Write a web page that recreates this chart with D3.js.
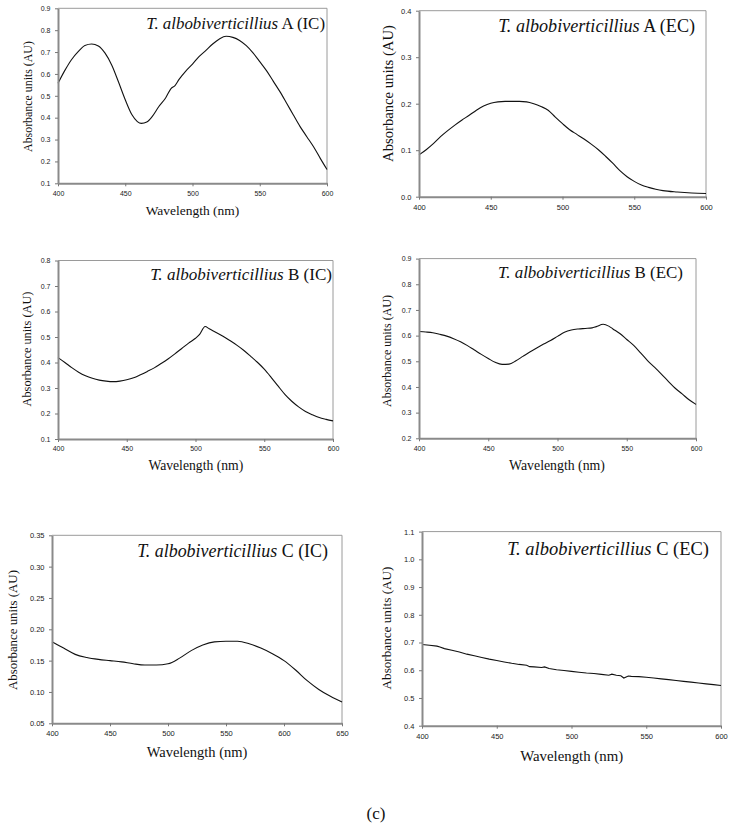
<!DOCTYPE html>
<html><head><meta charset="utf-8">
<script src="https://cdn.jsdelivr.net/npm/d3@7"></script>
<style>body{margin:0;background:#fff} svg{display:block}</style>
</head><body>
<svg id="c" width="735" height="830"></svg>
<script>
// ---------------- data ----------------
const xTicks600 = [400, 450, 500, 550, 600];
const xTicks650 = [400, 450, 500, 550, 600, 650];

const wlA_IC = [400,405,410,415,420,425,430,435,440,445,450,455,459,462,466,470,475,480,484,487,490,495,500,505,510,515,520,525,530,535,540,545,550,555,560,565,570,575,580,585,590,595,600];
const absA_IC = [0.557,0.615,0.665,0.702,0.730,0.737,0.728,0.695,0.640,0.563,0.482,0.413,0.382,0.374,0.380,0.405,0.451,0.490,0.533,0.547,0.575,0.613,0.645,0.680,0.708,0.737,0.760,0.772,0.767,0.753,0.729,0.696,0.656,0.615,0.567,0.519,0.466,0.412,0.359,0.313,0.267,0.214,0.163];
const yTicksA_IC = [0.1,0.2,0.3,0.4,0.5,0.6,0.7,0.8,0.9];

const wlA_EC = [400,405,410,415,420,425,430,435,440,445,450,455,460,465,470,475,480,485,490,495,500,505,510,515,520,525,530,535,540,545,550,555,560,565,570,580,590,600];
const absA_EC = [0.090,0.101,0.114,0.129,0.142,0.154,0.165,0.175,0.186,0.195,0.201,0.204,0.205,0.205,0.205,0.204,0.200,0.194,0.186,0.171,0.157,0.144,0.134,0.124,0.113,0.101,0.087,0.072,0.056,0.043,0.033,0.025,0.020,0.016,0.013,0.010,0.008,0.007];
const yTicksA_EC = [0.0,0.1,0.2,0.3,0.4];

const wlB_IC = [400,405,410,415,420,425,430,435,440,445,450,455,460,465,470,475,480,485,490,495,500,503,507,510,515,520,525,530,535,540,545,550,555,560,565,570,575,580,585,590,595,600];
const absB_IC = [0.419,0.400,0.380,0.362,0.348,0.338,0.331,0.327,0.325,0.327,0.332,0.340,0.352,0.365,0.379,0.396,0.414,0.434,0.455,0.476,0.495,0.510,0.541,0.532,0.518,0.503,0.486,0.468,0.448,0.425,0.401,0.374,0.342,0.308,0.275,0.248,0.226,0.208,0.195,0.184,0.177,0.171];
const yTicksB_IC = [0.1,0.2,0.3,0.4,0.5,0.6,0.7,0.8];

const wlB_EC = [400,405,410,415,420,425,430,435,440,445,450,455,460,465,470,475,480,485,490,495,500,505,510,515,520,525,528,533,537,540,545,550,555,560,565,570,575,580,585,590,595,600];
const absB_EC = [0.616,0.614,0.611,0.605,0.598,0.588,0.576,0.561,0.544,0.527,0.511,0.496,0.488,0.489,0.502,0.519,0.536,0.552,0.567,0.581,0.597,0.613,0.622,0.626,0.628,0.630,0.635,0.644,0.637,0.626,0.608,0.585,0.562,0.533,0.503,0.477,0.450,0.422,0.395,0.373,0.350,0.332];
const yTicksB_EC = [0.2,0.3,0.4,0.5,0.6,0.7,0.8,0.9];

const wlC_IC = [400,410,420,430,440,450,460,470,480,490,500,510,520,530,540,550,560,570,580,590,600,610,620,630,640,650];
const absC_IC = [0.180,0.170,0.160,0.155,0.152,0.150,0.148,0.145,0.143,0.143,0.145,0.154,0.166,0.175,0.180,0.181,0.181,0.177,0.170,0.161,0.150,0.135,0.118,0.104,0.093,0.084];
const yTicksC_IC = [0.05,0.10,0.15,0.20,0.25,0.30,0.35];

const wlC_EC = [400,405,410,412,415,420,425,430,435,440,445,450,455,460,465,470,472,475,480,482,485,490,495,500,505,510,515,520,525,527,530,533,535,538,540,545,550,555,560,565,570,575,580,585,590,595,600];
const absC_EC = [0.693,0.690,0.687,0.684,0.678,0.672,0.666,0.658,0.652,0.646,0.640,0.635,0.630,0.625,0.621,0.618,0.613,0.612,0.610,0.612,0.606,0.602,0.599,0.596,0.593,0.590,0.588,0.585,0.582,0.586,0.582,0.580,0.572,0.579,0.578,0.577,0.575,0.572,0.569,0.566,0.563,0.560,0.557,0.554,0.551,0.548,0.545];
const yTicksC_EC = [0.4,0.5,0.6,0.7,0.8,0.9,1.0,1.1];

const species = "T. albobiverticillius";

// ---------------- layout ----------------
const panels = [
  {wl: wlA_IC, abs: absA_IC, xd:[400,600], yd:[0.1,0.9], xt: xTicks600, yt: yTicksA_IC, fmt: d3.format(".1f"), suffix:" A (IC)",
   box:{l:58,r:327,t:8.3,b:183.3}, title:{x:325,y:29,w:179}, xl:{x:192.5,y:215,w:93.6}, yl:{x:27.5,y:96.5,w:111}, fs:7, curve:d3.curveMonotoneX},
  {wl: wlA_EC, abs: absA_EC, xd:[400,600], yd:[0.0,0.4], xt: xTicks600, yt: yTicksA_EC, fmt: d3.format(".1f"), suffix:" A (EC)",
   box:{l:419,r:706,t:10.7,b:196.7}, title:{x:695,y:31.7,w:197}, xl:null, yl:{x:387.5,y:93.5,w:137}, fs:7.5, curve:d3.curveMonotoneX},
  {wl: wlB_IC, abs: absB_IC, xd:[400,600], yd:[0.1,0.8], xt: xTicks600, yt: yTicksB_IC, fmt: d3.format(".1f"), suffix:" B (IC)",
   box:{l:58,r:333,t:260.5,b:439}, title:{x:332,y:280,w:182}, xl:{x:195.8,y:470,w:95}, yl:{x:26.7,y:349,w:115}, fs:7, curve:d3.curveMonotoneX},
  {wl: wlB_EC, abs: absB_EC, xd:[400,600], yd:[0.2,0.9], xt: xTicks600, yt: yTicksB_EC, fmt: d3.format(".1f"), suffix:" B (EC)",
   box:{l:419,r:696,t:258.6,b:438.3}, title:{x:683,y:278.3,w:185}, xl:{x:557,y:470,w:96}, yl:{x:386.7,y:351,w:112}, fs:7, curve:d3.curveMonotoneX},
  {wl: wlC_IC, abs: absC_IC, xd:[400,650], yd:[0.05,0.35], xt: xTicks650, yt: yTicksC_IC, fmt: d3.format(".2f"), suffix:" C (IC)",
   box:{l:52,r:342,t:535.3,b:723.3}, title:{x:328,y:556.7,w:191}, xl:{x:197,y:757,w:100.7}, yl:{x:13.3,y:630,w:120}, fs:7.5, curve:d3.curveMonotoneX},
  {wl: wlC_EC, abs: absC_EC, xd:[400,600], yd:[0.4,1.1], xt: xTicks600, yt: yTicksC_EC, fmt: d3.format(".1f"), suffix:" C (EC)",
   box:{l:422,r:721,t:531.6,b:725.7}, title:{x:709,y:555,w:202}, xl:{x:571.7,y:761,w:103}, yl:{x:386.7,y:628,w:123}, fs:7.5, curve:d3.curveLinear}
];

const svg = d3.select("#c");
const SERIF = "'Liberation Serif','Times New Roman',serif";
const SANS = "'Liberation Sans',Arial,sans-serif";

function fitWidth(sel, target) {
  const base = 12;
  sel.attr("font-size", base);
  const w = sel.node().getComputedTextLength();
  sel.attr("font-size", base * target / w);
}

panels.forEach(p => {
  const x = d3.scaleLinear().domain(p.xd).range([p.box.l, p.box.r]);
  const y = d3.scaleLinear().domain(p.yd).range([p.box.b, p.box.t]);
  const g = svg.append("g");

  // top / right frame (thin)
  g.append("line").attr("x1", p.box.l).attr("x2", p.box.r).attr("y1", p.box.t).attr("y2", p.box.t)
    .attr("stroke", "#9a9a9a").attr("stroke-width", 1);
  g.append("line").attr("x1", p.box.r).attr("x2", p.box.r).attr("y1", p.box.t).attr("y2", p.box.b)
    .attr("stroke", "#9a9a9a").attr("stroke-width", 1);

  // curve
  const line = d3.line().x((d, i) => x(p.wl[i])).y(d => y(d)).curve(p.curve);
  g.append("path").datum(p.abs).attr("d", line).attr("fill", "none")
    .attr("stroke", "#111").attr("stroke-width", 1.1);

  // axes
  const ax = g.append("g").attr("transform", `translate(0,${p.box.b})`)
    .call(d3.axisBottom(x).tickValues(p.xt).tickFormat(d3.format("d")).tickSize(3).tickPadding(4.5).tickSizeOuter(0));
  const ay = g.append("g").attr("transform", `translate(${p.box.l},0)`)
    .call(d3.axisLeft(y).tickValues(p.yt).tickFormat(p.fmt).tickSize(3).tickPadding(4.5).tickSizeOuter(0));
  [ax, ay].forEach(a => {
    a.select(".domain").attr("stroke", "#8a8a8a").attr("stroke-width", 2);
    a.selectAll(".tick line").attr("stroke", "#777").attr("stroke-width", 1);
    a.selectAll(".tick text").attr("fill", "#222").attr("font-family", SANS).attr("font-size", p.fs);
  });

  // title
  const t = g.append("text").attr("x", p.title.x).attr("y", p.title.y).attr("text-anchor", "end")
    .attr("font-family", SERIF).attr("fill", "#111");
  t.append("tspan").attr("font-style", "italic").text(species);
  t.append("tspan").text(p.suffix);
  fitWidth(t, p.title.w);

  // x label
  if (p.xl) {
    const xt = g.append("text").attr("x", p.xl.x).attr("y", p.xl.y).attr("text-anchor", "middle")
      .attr("font-family", SERIF).attr("fill", "#111").text("Wavelength (nm)");
    fitWidth(xt, p.xl.w);
  }
  // y label
  const yt = g.append("text").attr("transform", `translate(${p.yl.x},${p.yl.y}) rotate(-90)`)
    .attr("text-anchor", "middle").attr("dominant-baseline", "central")
    .attr("font-family", SERIF).attr("fill", "#111").text("Absorbance units (AU)");
  fitWidth(yt, p.yl.w);
});

// panel caption
svg.append("text").attr("x", 376).attr("y", 819).attr("text-anchor", "middle")
  .attr("font-family", SERIF).attr("font-size", 17).attr("fill", "#111").text("(c)");
</script>
</body></html>
